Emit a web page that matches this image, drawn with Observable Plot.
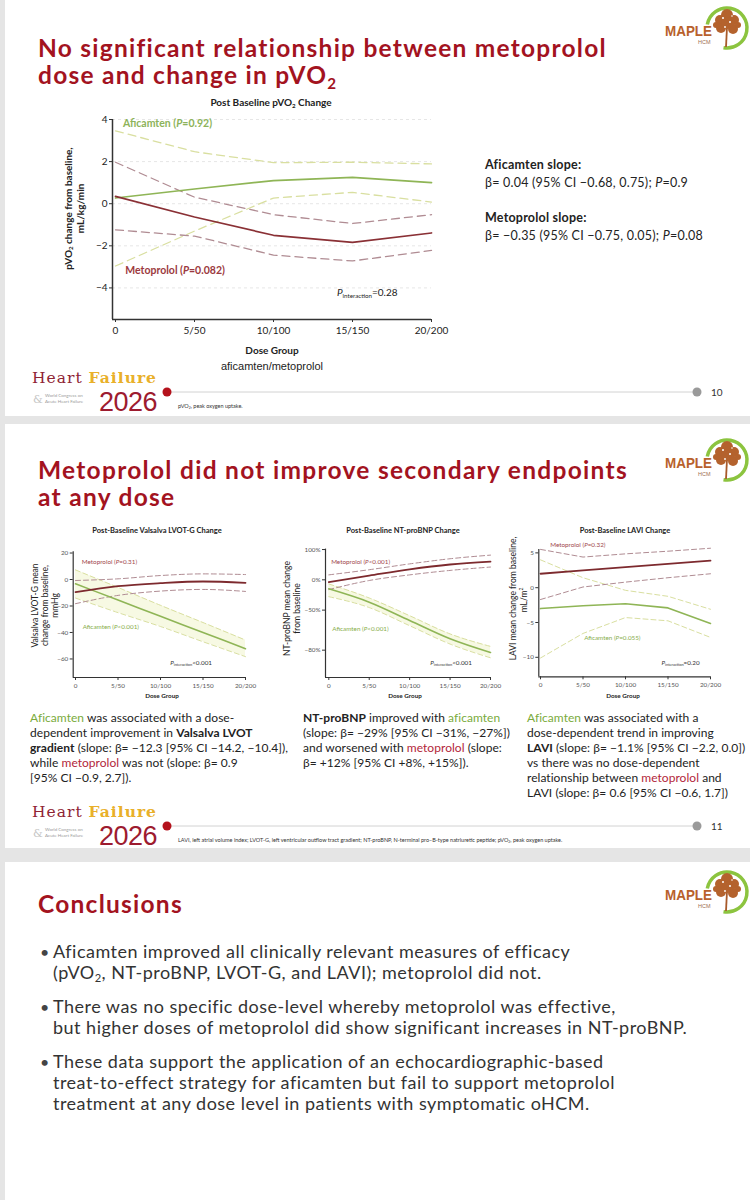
<!DOCTYPE html>
<html><head><meta charset="utf-8">
<script src="https://cdn.jsdelivr.net/npm/d3@7"></script>
<script src="https://cdn.jsdelivr.net/npm/@observablehq/plot@0.6"></script>
<style>
html,body{margin:0;padding:0;background:#e5e5e5;}
#page{position:relative;width:750px;height:1200px;overflow:hidden;background:#e5e5e5;font-family:Lato,"Open Sans",sans-serif;color:#222;}
.slide{position:absolute;left:5px;width:745px;background:#fff;}
.t{position:absolute;white-space:nowrap;}
sub{font-size:0.62em;vertical-align:-0.3em;line-height:0;}
.g{color:#7aab3c;}
.r{color:#b3263a;}
.chart{position:absolute;}
</style></head><body><div id="page"></div>
<script>
// ---------------- DATA ----------------
const doseIndex = [0, 1, 2, 3, 4];
const doseLabels = ["0", "5/50", "10/100", "15/150", "20/200"];

// pVO2 change (mL/kg/min)
const pvo2AfiMean  = [0.27, 0.70, 1.10, 1.25, 1.00];
const pvo2AfiUpper = [3.46, 2.47, 1.95, 1.97, 1.89];
const pvo2AfiLower = [-2.96, -1.30, 0.27, 0.54, 0.08];
const pvo2MetoMean  = [0.35, -0.63, -1.50, -1.84, -1.39];
const pvo2MetoUpper = [1.97, 0.31, -0.52, -0.94, -0.52];
const pvo2MetoLower = [-1.24, -1.54, -2.44, -2.72, -2.22];
const pvo2Ticks = [4, 2, 0, -2, -4];

// Valsalva LVOT-G change (mmHg)
const lvotMetoMean  = [-9.5, -5.0, -2.75, -1.5, -2.5];
const lvotMetoUpper = [-0.75, 0.5, 3.0, 4.25, 3.75];
const lvotMetoLower = [-18.25, -12.0, -8.75, -7.5, -9.0];
const lvotAfiMean  = [-3.25, -15.5, -27.75, -40.0, -52.25];
const lvotAfiUpper = [7.25, -6.0, -19.5, -32.5, -45.75];
const lvotAfiLower = [-14.0, -25.0, -35.5, -47.0, -58.25];
const lvotTicks = [20, 0, -20, -40, -60];

// NT-proBNP change (%)
const bnpMetoMean  = [-5, 10, 27, 42, 52];
const bnpMetoUpper = [12, 26, 44, 62, 76];
const bnpMetoLower = [-20, -1.5, 12, 24, 34];
const bnpAfiMean  = [-18.6, -40, -60.5, -74, -81];
const bnpAfiUpper = [-9, -34, -56, -71, -78.2];
const bnpAfiLower = [-32, -47, -65, -77, -83.2];
const bnpTicks = [100, 0, -50, -80];

// LAVI change (mL/m2)
const laviMetoMean  = [2.0, 2.5, 2.95, 3.43, 3.9];
const laviMetoUpper = [5.5, 4.4, 4.86, 5.24, 5.67];
const laviMetoLower = [-1.7, 0.1, 0.8, 1.43, 2.0];
const laviAfiMean  = [-3.0, -2.6, -2.3, -2.9, -5.14];
const laviAfiUpper = [4.0, 1.43, -0.38, -1.24, -3.1];
const laviAfiLower = [-10.1, -6.57, -4.29, -4.76, -7.14];
const laviTicks = [5, 0, -5, -10];

// ---------------- HELPERS ----------------
const page = document.getElementById('page');
const minus = v => (v < 0 ? '−' : '') + Math.abs(v);
function box(l, t, w, h) {
  const d = document.createElement('div');
  d.className = 'slide';
  Object.assign(d.style, {left: l + 'px', top: t + 'px', width: w + 'px', height: h + 'px'});
  page.appendChild(d);
}
function T(x, y, html, o = {}) {
  const d = document.createElement('div');
  d.className = 't';
  d.innerHTML = html;
  const fs = o.fs || 12, lh = o.lh || Math.round(fs * 1.25);
  Object.assign(d.style, {
    left: x + 'px', top: (y - lh / 2) + 'px', fontSize: fs + 'px', lineHeight: lh + 'px',
    color: o.color || '#222', fontWeight: o.bold ? '700' : '400'
  });
  if (o.font) d.style.fontFamily = o.font;
  if (o.rotate) d.style.transform = 'translateX(-50%) rotate(-90deg)';
  else if (o.anchor === 'middle') d.style.transform = 'translateX(-50%)';
  else if (o.anchor === 'end') d.style.transform = 'translateX(-100%)';
  page.appendChild(d);
  return d;
}
function fitGroup(els, ref, width) {
  const cur = els[ref].getBoundingClientRect().width;
  const n = els[ref].textContent.length;
  const ls = (width - cur) / n;
  els.forEach(e => e.style.letterSpacing = ls + 'px');
}

const AFI = '#8fb556', AFI_CI = '#d9dfa0', META = '#8a3035', META_CI = '#b08c93';

function makeChart(c) {
  const step = (c.x4 - c.x0) / 4;
  const xDomain = [-(c.x0 - c.axisX) / step, 4];
  const marks = [];
  if (c.grid) marks.push(Plot.ruleY(c.yTicks, {y: d => c.yv(d), stroke: '#e6e6e6', strokeDasharray: '3,3'}));
  if (c.band) marks.push(Plot.areaY(doseIndex, {x: d => d, y1: (d, i) => c.yv(c.band[0][i]), y2: (d, i) => c.yv(c.band[1][i]), fill: '#f7f9e3', curve: c.curve}));
  c.series.forEach(s => marks.push(Plot.line(doseIndex, {
    x: d => d, y: (d, i) => c.yv(s.v[i]), stroke: s.color, strokeWidth: s.w,
    strokeDasharray: s.dash, curve: c.curve
  })));
  marks.push(Plot.ruleX([xDomain[0]], {stroke: '#333', strokeWidth: c.axisW}));
  marks.push(Plot.ruleY([c.yDomain[0]], {stroke: '#333', strokeWidth: c.axisW}));
  marks.push(Plot.axisX({ticks: doseIndex, tickFormat: i => doseLabels[i], tickSize: 3, tickPadding: c.tickPad, stroke: '#333', fill: c.tickColor}));
  marks.push(Plot.axisY({ticks: c.yTicks.map(c.yv), tickFormat: c.yFmt, tickSize: 3, tickPadding: 2, stroke: '#333', fill: c.tickColor}));
  const p = Plot.plot({
    width: c.width, height: c.height,
    marginLeft: c.axisX - c.left, marginRight: c.left + c.width - c.x4,
    marginTop: c.yTop - c.top, marginBottom: c.top + c.height - c.yBottom,
    x: {domain: xDomain},
    y: {type: c.yType || 'linear', domain: c.yDomain},
    style: {fontFamily: 'Lato, sans-serif', fontSize: c.fs + 'px', background: 'transparent', overflow: 'visible'},
    marks
  });
  const wrap = document.createElement('div');
  wrap.className = 'chart';
  Object.assign(wrap.style, {left: c.left + 'px', top: c.top + 'px', width: c.width + 'px', height: c.height + 'px'});
  wrap.appendChild(p);
  page.appendChild(wrap);
  const sx = p.scale('x'), sy = p.scale('y');
  (c.labels || []).forEach(l => {
    T(c.left + sx.apply(l.x), c.top + sy.apply(c.yv(l.y)), l.html, {fs: l.fs, color: l.color, bold: l.bold});
  });
  return p;
}

function logo(y0) {
  const d = document.createElement('div');
  d.className = 't';
  d.style.left = '660px'; d.style.top = y0 + 'px';
  d.innerHTML = `<svg width="90" height="60" xmlns="http://www.w3.org/2000/svg">
    <path d="M47.3,21.5 A20,20 0 1 1 63.5,44.7" fill="none" stroke="#8cc43f" stroke-width="3.5"/>
    <line x1="67" y1="24" x2="66" y2="44" stroke="#a85a2a" stroke-width="1.8"/>
    <g fill="#b4622d">
      <circle cx="60" cy="17" r="5"/><circle cx="67" cy="12" r="6"/><circle cx="74" cy="17" r="5"/>
      <circle cx="61" cy="25" r="5"/><circle cx="73" cy="26" r="5"/><circle cx="67" cy="20" r="6"/>
      <circle cx="56" cy="22" r="3"/><circle cx="78" cy="22" r="3"/>
    </g>
    <g fill="#fff"><circle cx="63" cy="15" r="1"/><circle cx="70" cy="19" r="1"/><circle cx="65" cy="24" r="0.9"/><circle cx="72" cy="13" r="0.8"/></g>
    <text x="5" y="33" font-family="Liberation Sans, Arial, sans-serif" font-weight="700" font-size="14.5" fill="#b8612c" textLength="47" lengthAdjust="spacingAndGlyphs">MAPLE</text>
    <text x="38" y="41" font-family="Liberation Sans, Arial, sans-serif" font-size="5.5" fill="#a07050">HCM</text>
  </svg>`;
  page.appendChild(d);
}

function footer(yl, num, note) {
  const hf = T(32, yl - 14, '<span style="color:#8f2434">Heart</span> <span style="color:#e9b02a;font-weight:700">Failure</span>', {fs: 15.5, lh: 14, font: '"DejaVu Serif", serif'});
  fitGroup([hf], 0, 125);
  const y26 = T(99, yl + 10, '2026', {fs: 27, lh: 20, color: '#9d1b2f', font: '"Liberation Sans Narrow", sans-serif'});
  fitGroup([y26], 0, 58);
  T(45, yl + 3, 'World Congress on', {fs: 4.5, lh: 5, color: '#9a9a9a'});
  T(45, yl + 9, 'Acute Heart Failure', {fs: 4.5, lh: 5, color: '#9a9a9a'});
  T(33, yl + 7, '&amp;', {fs: 11, lh: 11, color: '#c4c4c4', font: '"DejaVu Serif", serif'});
  const d = document.createElement('div');
  d.className = 't';
  d.style.left = '0px'; d.style.top = (yl - 10) + 'px';
  d.innerHTML = `<svg width="750" height="20"><line x1="171" y1="10" x2="694" y2="10" stroke="#d2d2d2" stroke-width="1"/>
    <circle cx="167" cy="10" r="4.5" fill="#b4121c"/><circle cx="697" cy="10" r="4.5" fill="#9a9a9a"/></svg>`;
  page.appendChild(d);
  T(711, yl, num, {fs: 10, color: '#333'});
  T(178, yl + 14, note, {fs: 5.5, lh: 7, color: '#333'});
}

// ---------------- SLIDES ----------------
box(5, 0, 745, 416);
box(5, 424, 745, 424);
box(5, 862, 745, 338);

const TITLE = '#a3131f';
// Slide 1
const s1a = T(38, 47, 'No significant relationship between metoprolol', {fs: 24.5, lh: 25, bold: true, color: TITLE});
const s1b = T(38, 74, 'dose and change in pVO<sub>2</sub>', {fs: 24.5, lh: 25, bold: true, color: TITLE});
fitGroup([s1a, s1b], 0, 569);
logo(3);

T(271, 102, 'Post Baseline pVO<sub>2</sub> Change', {fs: 10, bold: true, anchor: 'middle', color: '#222'});
T(68, 208, 'pVO<sub>2</sub> change from baseline,', {fs: 10, bold: true, rotate: true});
T(80, 208, 'mL/kg/min', {fs: 10, bold: true, rotate: true});
T(272, 350, 'Dose Group', {fs: 10, bold: true, anchor: 'middle'});
T(272, 366, 'aficamten/metoprolol', {fs: 11, anchor: 'middle', font: '"Liberation Sans", Arial, sans-serif'});

makeChart({
  left: 20, top: 95, width: 440, height: 285,
  axisX: 112, x0: 115, x4: 431, yTop: 119, yBottom: 319,
  yDomain: [-5.5, 4], yTicks: pvo2Ticks, yv: v => v, yFmt: minus,
  fs: 10, tickColor: '#222', tickPad: 4, axisW: 1.5, grid: true, curve: 'linear',
  series: [
    {v: pvo2AfiUpper, color: AFI_CI, w: 1.3, dash: '8,5'},
    {v: pvo2AfiLower, color: AFI_CI, w: 1.3, dash: '8,5'},
    {v: pvo2MetoUpper, color: META_CI, w: 1.3, dash: '8,5'},
    {v: pvo2MetoLower, color: META_CI, w: 1.3, dash: '8,5'},
    {v: pvo2AfiMean, color: AFI, w: 1.7},
    {v: pvo2MetoMean, color: META, w: 1.7}
  ],
  labels: [
    {x: 0.1, y: 3.8, html: 'Aficamten (<i>P</i>=0.92)', fs: 10.5, bold: true, color: '#8db35a'},
    {x: 0.13, y: -3.19, html: 'Metoprolol (<i>P</i>=0.082)', fs: 10.5, bold: true, color: '#9c3a40'},
    {x: 2.81, y: -4.24, html: '<i>P</i><sub>interaction</sub>=0.28', fs: 10, color: '#222'}
  ]
});

const sl = [
  T(485, 165, 'Aficamten slope:', {fs: 12.5, bold: true}),
  T(485, 183, 'β= 0.04 (95% CI −0.68, 0.75); <i>P</i>=0.9', {fs: 12.5}),
  T(485, 218, 'Metoprolol slope:', {fs: 12.5, bold: true}),
  T(485, 236, 'β= −0.35 (95% CI −0.75, 0.05); <i>P</i>=0.08', {fs: 12.5})
];
fitGroup(sl, 3, 218);

footer(392, '10', 'pVO<sub>2</sub>, peak oxygen uptake.');

// Slide 2
const s2a = T(38, 470, 'Metoprolol did not improve secondary endpoints', {fs: 24.5, lh: 24, bold: true, color: TITLE});
const s2b = T(38, 497, 'at any dose', {fs: 24.5, lh: 24, bold: true, color: TITLE});
fitGroup([s2a, s2b], 0, 590);
logo(435);

// Chart A: LVOT-G
T(157, 530, 'Post-Baseline Valsalva LVOT-G Change', {fs: 7.5, bold: true, anchor: 'middle'});
T(35, 605, 'Valsalva LVOT-G mean', {fs: 8.5, rotate: true});
T(45, 605, 'change from baseline,', {fs: 8.5, rotate: true});
T(55, 605, 'mmHg', {fs: 8.5, rotate: true});
T(162, 696, 'Dose Group', {fs: 6.3, bold: true, anchor: 'middle'});
makeChart({
  left: 40, top: 540, width: 215, height: 160,
  axisX: 72.7, x0: 75, x4: 245, yTop: 551.2, yBottom: 677,
  yDomain: [-74, 21], yTicks: lvotTicks, yv: v => v, yFmt: minus,
  fs: 6.3, tickColor: '#555', tickPad: 3, axisW: 1.2, curve: 'monotone-x',
  band: [lvotAfiLower, lvotAfiUpper],
  series: [
    {v: lvotAfiUpper, color: AFI_CI, w: 1, dash: '5,3'},
    {v: lvotAfiLower, color: AFI_CI, w: 1, dash: '5,3'},
    {v: lvotMetoUpper, color: META_CI, w: 1, dash: '5,3'},
    {v: lvotMetoLower, color: META_CI, w: 1, dash: '5,3'},
    {v: lvotAfiMean, color: AFI, w: 1.6},
    {v: lvotMetoMean, color: '#7d2a2e', w: 1.8}
  ],
  labels: [
    {x: 0.16, y: 13, html: 'Metoprolol (<i>P</i>=0.31)', fs: 6.3, color: '#a0464c'},
    {x: 0.18, y: -36.5, html: 'Aficamten (<i>P</i>&lt;0.001)', fs: 6.3, color: '#86ad4a'},
    {x: 2.24, y: -63.6, html: '<i>P</i><sub>interaction</sub>&lt;0.001', fs: 6.3, color: '#333'}
  ]
});

// Chart B: NT-proBNP (log ratio scale)
T(403, 530, 'Post-Baseline NT-proBNP Change', {fs: 7.5, bold: true, anchor: 'middle'});
T(287, 608, 'NT-proBNP mean change', {fs: 8.5, rotate: true});
T(297, 608, 'from baseline', {fs: 8.5, rotate: true});
T(405, 696, 'Dose Group', {fs: 6.3, bold: true, anchor: 'middle'});
makeChart({
  left: 290, top: 540, width: 215, height: 160,
  axisX: 325, x0: 328.3, x4: 490, yTop: 548.6, yBottom: 677,
  yType: 'log', yDomain: [0.107, 2.02], yTicks: bnpTicks, yv: p => 1 + p / 100,
  yFmt: v => minus(Math.round((v - 1) * 100)) + '%',
  fs: 6.3, tickColor: '#555', tickPad: 3, axisW: 1.2, curve: 'monotone-x',
  band: [bnpAfiLower, bnpAfiUpper],
  series: [
    {v: bnpAfiUpper, color: AFI_CI, w: 1, dash: '5,3'},
    {v: bnpAfiLower, color: AFI_CI, w: 1, dash: '5,3'},
    {v: bnpMetoUpper, color: META_CI, w: 1, dash: '5,3'},
    {v: bnpMetoLower, color: META_CI, w: 1, dash: '5,3'},
    {v: bnpAfiMean, color: AFI, w: 1.6},
    {v: bnpMetoMean, color: '#7d2a2e', w: 1.8}
  ],
  labels: [
    {x: 0.07, y: 50, html: 'Metoprolol (<i>P</i>&lt;0.001)', fs: 6.3, color: '#a0464c'},
    {x: 0.1, y: -68, html: 'Aficamten (<i>P</i>&lt;0.001)', fs: 6.3, color: '#86ad4a'},
    {x: 2.52, y: -85.3, html: '<i>P</i><sub>interaction</sub>&lt;0.001', fs: 6.3, color: '#333'}
  ]
});

// Chart C: LAVI
T(625, 530, 'Post-Baseline LAVI Change', {fs: 7.5, bold: true, anchor: 'middle'});
T(513, 598, 'LAVI mean change from baseline,', {fs: 8.5, rotate: true});
T(523, 598, 'mL/m<sup style="font-size:0.6em">2</sup>', {fs: 8.5, rotate: true});
T(623, 696, 'Dose Group', {fs: 6.3, bold: true, anchor: 'middle'});
makeChart({
  left: 505, top: 540, width: 225, height: 160,
  axisX: 538.3, x0: 540, x4: 710, yTop: 548.9, yBottom: 676.3,
  yDomain: [-12.8, 5.5], yTicks: laviTicks, yv: v => v, yFmt: minus,
  fs: 6.3, tickColor: '#555', tickPad: 3, axisW: 1.2, curve: 'linear',
  series: [
    {v: laviAfiUpper, color: AFI_CI, w: 1, dash: '5,3'},
    {v: laviAfiLower, color: AFI_CI, w: 1, dash: '5,3'},
    {v: laviMetoUpper, color: META_CI, w: 1, dash: '5,3'},
    {v: laviMetoLower, color: META_CI, w: 1, dash: '5,3'},
    {v: laviAfiMean, color: AFI, w: 1.6},
    {v: laviMetoMean, color: '#7d2a2e', w: 1.8}
  ],
  labels: [
    {x: 0.24, y: 6.05, html: 'Metoprolol (<i>P</i>=0.32)', fs: 6.3, color: '#a0464c'},
    {x: 1.04, y: -7.27, html: 'Aficamten (<i>P</i>=0.055)', fs: 6.3, color: '#86ad4a'},
    {x: 2.86, y: -10.86, html: '<i>P</i><sub>interaction</sub>=0.20', fs: 6.3, color: '#333'}
  ]
});

// Slide 2 text columns
const col1 = [
  '<span class="g">Aficamten</span> was associated with a dose-',
  'dependent improvement in <b>Valsalva LVOT</b>',
  '<b>gradient</b> (slope: β= −12.3 [95% CI −14.2, −10.4]),',
  'while <span class="r">metoprolol</span> was not (slope: β= 0.9',
  '[95% CI −0.9, 2.7]).'
];
const col2 = [
  '<b>NT-proBNP</b> improved with <span class="g">aficamten</span>',
  '(slope: β= −29% [95% CI −31%, −27%])',
  'and worsened with <span class="r">metoprolol</span> (slope:',
  'β= +12% [95% CI +8%, +15%]).'
];
const col3 = [
  '<span class="g">Aficamten</span> was associated with a',
  'dose-dependent trend in improving',
  '<b>LAVI</b> (slope: β= −1.1% [95% CI −2.2, 0.0])',
  'vs there was no dose-dependent',
  'relationship between <span class="r">metoprolol</span> and',
  'LAVI (slope: β= 0.6 [95% CI −0.6, 1.7])'
];
const paraEls = [];
[[col1, 30], [col2, 303], [col3, 527]].forEach(([lines, x]) => {
  lines.forEach((h, i) => paraEls.push(T(x, 717 + i * 15, h, {fs: 12, lh: 15, color: '#222'})));
});
fitGroup(paraEls, 2, 258);

footer(826, '11', 'LAVI, left atrial volume index; LVOT-G, left ventricular outflow tract gradient; NT-proBNP, N-terminal pro–B-type natriuretic peptide; pVO<sub>2</sub>, peak oxygen uptake.');

// Slide 3
const s3 = T(38, 903, 'Conclusions', {fs: 24.5, lh: 25, bold: true, color: TITLE});
s3.style.letterSpacing = s1a.style.letterSpacing;
logo(867);

const bullets = [
  ['Aficamten improved all clinically relevant measures of efficacy', '(pVO<sub>2</sub>, NT-proBNP, LVOT-G, and LAVI); metoprolol did not.'],
  ['There was no specific dose-level whereby metoprolol was effective,', 'but higher doses of metoprolol did show significant increases in NT-proBNP.'],
  ['These data support the application of an echocardiographic-based', 'treat-to-effect strategy for aficamten but fail to support metoprolol', 'treatment at any dose level in patients with symptomatic oHCM.']
];
const bulletTops = [951, 1006, 1061];
const bEls = [];
bullets.forEach((lines, b) => {
  T(40, bulletTops[b], '•', {fs: 16, lh: 21, color: '#444'});
  lines.forEach((h, i) => bEls.push(T(53, bulletTops[b] + i * 21, h, {fs: 18, lh: 21, color: '#333'})));
});
fitGroup(bEls, 3, 634);
</script></body></html>
